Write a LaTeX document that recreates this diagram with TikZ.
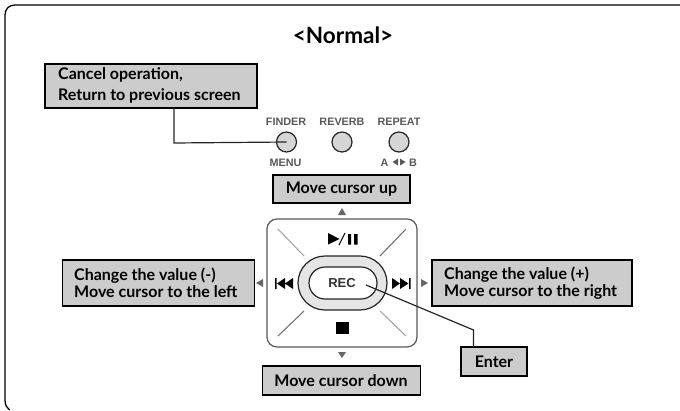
\documentclass[tikz,border=0pt]{standalone}
\usetikzlibrary{shapes.misc}
\usepackage{fontspec}
\setmainfont{Lato}
\newfontfamily\lblfont{Liberation Sans}
\definecolor{boxgray}{gray}{0.8}
\begin{document}
\begin{tikzpicture}[x=1pt,y=-1pt,
  help/.style={draw=black,fill=boxgray,line width=1.5pt,inner sep=0pt},
  helptext/.style={font=\bfseries\fontsize{16}{16.5}\selectfont,align=left,text=black,inner sep=0pt,anchor=west},
  ctext/.style={font=\bfseries\fontsize{16}{17}\selectfont,inner sep=0pt},
  btn/.style={circle,draw=black!85,fill=boxgray!80,line width=1.2pt,minimum size=20pt,inner sep=0pt},
  lbl/.style={font=\lblfont\bfseries\fontsize{10.8}{12}\selectfont,text=black!65,inner sep=0pt},
  sym/.style={fill=black,draw=none},
  tri/.style={fill=black!60,draw=none},
  conn/.style={draw=black!85,line width=1.2pt}]
\useasboundingbox (0,0) rectangle (680,410);
\draw[draw=black,line width=1.3pt] (680,5) -- (15,5) .. controls (9,5) and (5,9) .. (5,15) -- (5,400) .. controls (5,405) and (7,408) .. (9.5,410);
\node[font=\bfseries\fontsize{22.5}{23}\selectfont,inner sep=0pt] (title) at (343,35) {<Normal>};
% boxes
\node[help,minimum width=212pt,minimum height=44pt] (cancel) at (151,86) {};
\node[helptext,font=\bfseries\fontsize{16}{20.5}\selectfont] (canceltxt) at (58,85.5) {Cancel operation,\\Return to previous screen};
\node[help,minimum width=137pt,minimum height=28pt] (up) at (341.5,189) {};
\node[ctext] (uptxt) at (341.5,189) {Move cursor up};
\node[help,minimum width=192pt,minimum height=46pt] (left) at (158.5,283) {};
\node[helptext] (lefttxt) at (74,283) {Change the value (-)\\Move cursor to the left};
\node[help,minimum width=200pt,minimum height=46pt] (right) at (532,283) {};
\node[helptext] (righttxt) at (444,283) {Change the value (+)\\Move cursor to the right};
\node[help,minimum width=66pt,minimum height=29pt] (enter) at (494,361.5) {};
\node[ctext] (entertxt) at (494,361.5) {Enter};
\node[help,minimum width=158pt,minimum height=29pt] (down) at (341.5,380.5) {};
\node[ctext] (downtxt) at (341,380.5) {Move cursor down};
% buttons
\node[btn] (finder) at (286.5,142) {};
\node[btn] (reverb) at (342,142) {};
\node[btn] (repeat) at (399,142) {};
\node[lbl] (lf) at (286,122) {FINDER};
\node[lbl] (lr) at (342,122) {REVERB};
\node[lbl] (lp) at (399,122) {REPEAT};
\node[lbl] (lm) at (285.5,162.5) {MENU};
\node[lbl] (la) at (384.5,162.5) {A};
\node[lbl] (lb) at (413,162.5) {B};
\fill[black!65] (398,158.5)--(398,165.5)--(392.5,162)--cycle (400,158.5)--(400,165.5)--(405.5,162)--cycle;
% pad
\draw[draw=black!65,line width=1.2pt,fill=white,rounded corners=10pt] (267,219) rectangle (417,347);
\draw[black!35,line width=1.1pt] (278,229)--(304,256) (406,336)--(380,311);
\draw[black!55,line width=1.1pt] (406,229)--(380,256) (278,336)--(304,311);
\node[draw=black!85,fill=black!10,line width=1.2pt,rounded rectangle,minimum width=89pt,minimum height=54pt,inner sep=0pt] (outer) at (342.5,283) {};
\node[draw=black!85,fill=white,line width=1.2pt,rounded rectangle,minimum width=68pt,minimum height=32pt,inner sep=0pt] (rec) at (343,283) {};
\node[font=\lblfont\bfseries\fontsize{13}{14}\selectfont,text=black!80,inner sep=0pt] (rectxt) at (342,283.5) {REC};
% symbols
\fill[sym] (328,233)--(339.5,239)--(328,244.5)--cycle;
\draw[line width=1.1pt,black] (339,245)--(345,233);
\fill[sym] (348,234) rectangle (351,244.5) (354,234) rectangle (357.5,244.5);
\fill[sym] (336,322) rectangle (349,334);
\fill[sym] (275,278) rectangle (276.5,289) (277,283.5)--(285,278)--(285,289)--cycle (285,283.5)--(293,278)--(293,289)--cycle;
\fill[sym] (409,278) rectangle (410.5,289) (392,278)--(400,283.5)--(392,289)--cycle (400,278)--(408.5,283.5)--(400,289)--cycle;
% small triangles
\fill[tri] (342,208)--(346,215)--(338,215)--cycle;
\fill[tri] (342,358)--(346,352)--(338,352)--cycle;
\fill[tri] (256,283)--(263,279)--(263,287)--cycle;
\fill[tri] (428,283)--(421,279)--(421,287)--cycle;
% connectors
\coordinate (cstart) at (174,108);
\coordinate (rstart) at (366,285);
\coordinate (bend) at (473.5,330);
\coordinate (eend) at (473.5,347);
\draw[conn] (cstart)--(174,143)--(finder.center);
\draw[conn] (rstart)--(bend)--(eend);
\end{tikzpicture}
\end{document}
